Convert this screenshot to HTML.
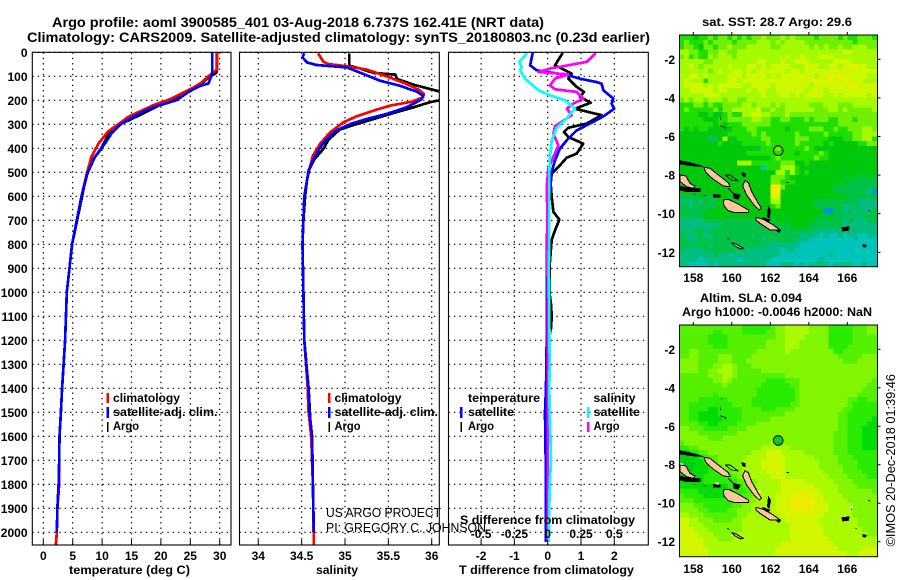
<!DOCTYPE html>
<html>
<head>
<meta charset="utf-8">
<title>Argo profile</title>
<style>
html,body{margin:0;padding:0;background:#fff;}
svg{display:block;font-family:"Liberation Sans",sans-serif;}
text{fill:#000;}
.b{font-weight:bold;font-size:12px;}
.t{font-weight:bold;font-size:14px;}
.n{font-weight:normal;font-size:13px;}
</style>
</head>
<body>
<svg id="chart" xmlns="http://www.w3.org/2000/svg" width="900" height="580" viewBox="0 0 900 580">
<defs>
<clipPath id="clip-t"><rect x="32.5" y="52.5" width="198.5" height="492.5"/></clipPath>
<clipPath id="clip-s"><rect x="239.5" y="52.5" width="200" height="492.5"/></clipPath>
<clipPath id="clip-d"><rect x="448.5" y="52.5" width="200" height="492.5"/></clipPath>
<clipPath id="clip-m1"><rect x="679.5" y="35" width="198" height="232"/></clipPath>
<clipPath id="clip-m2"><rect x="679.5" y="325" width="198" height="232"/></clipPath>
<g id="islands">
<g fill="#000" stroke="#000" stroke-width="2">
<path d="M30,452 60,458 90,466 100,470 70,468 30,462Z"/>
<path d="M130,553 150,555 150,562 130,562Z"/>
<path d="M190,550 210,555 205,568 192,565Z"/>
<path d="M215,488 225,490 225,500 218,498Z"/>
<path d="M295,590 302,600 298,625 292,620Z"/>
<path d="M278,622 300,630 295,637 280,632Z"/>
<path d="M515,653 538,650 535,662 518,663Z"/>
<path d="M578,703 590,706 585,712 578,710Z"/>
<path d="M320,655 332,660 328,667 320,664Z"/>
<path d="M30,528 60,535 90,535 90,545 50,545 30,540Z"/>
</g>
<g fill="#ffc896" stroke="#000" stroke-width="3" stroke-linejoin="round">
<path d="M102,472 120,475 145,495 175,518 180,530 160,528 130,508 108,488Z"/>
<path d="M30,495 48,498 60,520 75,528 70,535 50,530 30,515Z"/>
<path d="M225,512 235,518 245,545 265,580 275,595 268,600 252,585 230,555 218,528Z"/>
<path d="M160,570 175,568 200,580 235,600 235,608 195,608 175,602 162,588Z"/>
<path d="M258,622 280,628 310,645 330,660 300,660 270,640 258,630Z"/>
<path d="M185,698 200,703 220,715 212,717 195,708Z"/>
</g>
<g fill="none" stroke="#000" stroke-width="2.5">
<path d="M165,495 180,495 205,513 185,510 165,495"/>
<path d="M175,535 190,550 195,565"/>
<path d="M150,347 168,353 166,358"/>
<path d="M155,295v4M152,322v8M350,518h7M555,685h6M595,600l6,4M545,625v4M172,685l6,3M70,553h8M100,556l10,2"/>
</g>
</g>
<g id="nan-specks" fill="#fff">
<rect x="30" y="490" width="9" height="6"/>
<rect x="75" y="540" width="9" height="4"/>
<rect x="136" y="547" width="11" height="6"/>
<rect x="160" y="568" width="8" height="6"/>
<rect x="265" y="572" width="8" height="6"/>
<rect x="540" y="620" width="9" height="6"/>
<rect x="528" y="655" width="8" height="5"/>
<rect x="578" y="703" width="6" height="5"/>
<rect x="183" y="700" width="6" height="6"/>
</g>
</defs>
<rect x="0" y="0" width="900" height="580" fill="#fff"/>
<g id="grid-layer"></g>
<g id="map-layer"></g>
<g id="line-layer"></g>
<g id="frame-layer"></g>
<g id="tick-layer"></g>

<text class="t" x="52" y="27" textLength="492" lengthAdjust="spacingAndGlyphs">Argo profile: aoml 3900585_401 03-Aug-2018 6.737S 162.41E (NRT data)</text>
<text class="t" x="27" y="42" textLength="623" lengthAdjust="spacingAndGlyphs">Climatology: CARS2009. Satellite-adjusted climatology: synTS_20180803.nc (0.23d earlier)</text>

<text class="b" x="69" y="574" textLength="121" lengthAdjust="spacingAndGlyphs">temperature (deg C)</text>
<text class="b" x="316" y="574" textLength="42" lengthAdjust="spacingAndGlyphs">salinity</text>
<text class="b" x="459" y="574" textLength="175" lengthAdjust="spacingAndGlyphs">T difference from climatology</text>
<text class="b" x="460" y="524" textLength="175" lengthAdjust="spacingAndGlyphs">S difference from climatology</text>

<g>
<rect x="106.5" y="393" width="2.5" height="10" fill="#f00"/>
<rect x="106.5" y="407" width="2.5" height="11" fill="#00f"/>
<rect x="107" y="422" width="1.5" height="10" fill="#000"/>
<text class="b" x="113" y="402" textLength="67" lengthAdjust="spacingAndGlyphs">climatology</text>
<text class="b" x="113" y="416" textLength="104.5" lengthAdjust="spacingAndGlyphs">satellite-adj. clim.</text>
<text class="b" x="113" y="430" textLength="26" lengthAdjust="spacingAndGlyphs">Argo</text>
</g>
<g>
<rect x="328" y="393" width="2.5" height="10" fill="#f00"/>
<rect x="328" y="407" width="2.5" height="11" fill="#00f"/>
<rect x="328.5" y="422" width="1.5" height="10" fill="#000"/>
<text class="b" x="334.5" y="402" textLength="67" lengthAdjust="spacingAndGlyphs">climatology</text>
<text class="b" x="334.5" y="416" textLength="103.5" lengthAdjust="spacingAndGlyphs">satellite-adj. clim.</text>
<text class="b" x="334.5" y="430" textLength="26" lengthAdjust="spacingAndGlyphs">Argo</text>
</g>
<g>
<text class="b" x="468" y="402" textLength="72" lengthAdjust="spacingAndGlyphs">temperature</text>
<text class="b" x="593.5" y="402" textLength="42" lengthAdjust="spacingAndGlyphs">salinity</text>
<rect x="460" y="407" width="2.5" height="11" fill="#00f"/>
<rect x="460.5" y="422" width="1.5" height="10" fill="#000"/>
<rect x="587" y="407" width="2.5" height="11" fill="#0ff"/>
<rect x="587" y="422" width="2.5" height="10" fill="#f0f"/>
<text class="b" x="468" y="416" textLength="46" lengthAdjust="spacingAndGlyphs">satellite</text>
<text class="b" x="468" y="430" textLength="26" lengthAdjust="spacingAndGlyphs">Argo</text>
<text class="b" x="593.5" y="416" textLength="46.5" lengthAdjust="spacingAndGlyphs">satellite</text>
<text class="b" x="593.5" y="430" textLength="26" lengthAdjust="spacingAndGlyphs">Argo</text>
</g>

<text class="n" x="326" y="517" textLength="115" lengthAdjust="spacingAndGlyphs">US ARGO PROJECT</text>
<text class="n" x="326" y="532" textLength="160" lengthAdjust="spacingAndGlyphs">PI: GREGORY C. JOHNSON</text>

<text class="b" x="702" y="26" textLength="150" lengthAdjust="spacingAndGlyphs">sat. SST: 28.7 Argo: 29.6</text>
<text class="b" x="700" y="302" textLength="102" lengthAdjust="spacingAndGlyphs">Altim. SLA: 0.094</text>
<text class="b" x="682" y="316" textLength="190" lengthAdjust="spacingAndGlyphs">Argo h1000: -0.0046 h2000: NaN</text>
<text class="n" transform="translate(895,546.5) rotate(-90)" x="0" y="0" textLength="172.5" lengthAdjust="spacingAndGlyphs">©IMOS 20-Dec-2018 01:39:46</text>
</svg>

<script>
// ---------- profile data (depth in m, values in natural units) ----------
const depthTicks = [0,100,200,300,400,500,600,700,800,900,1000,1100,1200,1300,1400,1500,1600,1700,1800,1900,2000];
const tempTicks = [0,5,10,15,20,25,30];
const salTicks = [34,34.5,35,35.5,36];
const salTickLabels = ['34','34.5','35','35.5','36'];
const tDiffTicks = [-2,-1,0,1,2];
const sDiffTicks = [-0.5,-0.25,0,0.25,0.5];
const sDiffTickLabels = ['-0.5','-0.25','0','0.25','0.5'];

const tempArgoDepth = [0,80,88,104,136,170,199,226,261,310,351,407,462,505,600,800,1000,1200,1400,1500,1600,1700,1800,1900,2000,2054];
const tempArgo = [29.5,29.5,29.3,28.1,26.7,23.9,21.9,19.3,16.5,12.2,10.9,9.7,8,7.4,6.6,4.9,4,3.7,3.2,3,2.75,2.7,2.65,2.4,2.3,2.15];
const tempClimDepth = [0,70,100,130,150,170,195,220,240,268,296,330,380,435,505,600,800,1000,1200,1400,1500,1600,1700,1800,1900,2000,2054];
const tempClim = [29.6,29.6,28.1,26.7,25.3,23.6,21.6,18.75,17,14.5,13,11,9.4,8.2,7.4,6.5,4.9,4,3.7,3.2,3,2.75,2.7,2.7,2.4,2.3,2.15];
const tempSatDepth = [0,90,130,140,165,199,220,240,268,303,338,380,435,505,600,800,1000,1200,1400,1500,1600,1700,1800,1900,2000];
const tempSat = [28.7,28.7,28.1,26.7,24.7,22.7,19.9,17.6,15.3,13,11.6,10.5,8.8,7.5,6.5,4.9,4,3.7,3.2,3,2.75,2.7,2.6,2.4,2.3];

const salArgoDepth = [4,56,63,86,93,111,135,153,164,180,199,208,229,253,278,303,322,364,403,444,493,535,600,700,800,1000,1200,1400,1600,1800,2054];
const salArgo = [35.05,35.05,35.13,35.33,35.58,35.6,35.79,35.98,36.1,36.3,36.1,35.98,35.79,35.56,35.33,35.1,34.94,34.81,34.75,34.65,34.58,34.56,34.54,34.52,34.51,34.52,34.53,34.58,34.61,34.63,34.64];
const salClimDepth = [4,39,49,58,72,100,132,156,174,188,206,222,243,267,292,333,382,431,472,535,600,700,800,1000,1200,1400,1500,1600,1800,2054];
const salClim = [34.69,34.75,34.81,35.02,35.25,35.48,35.71,35.85,35.91,35.9,35.77,35.52,35.33,35.13,34.98,34.83,34.71,34.63,34.6,34.56,34.53,34.52,34.51,34.52,34.53,34.57,34.58,34.61,34.63,34.64];
const salSatDepth = [4,21,42,53,63,90,118,139,164,181,197,229,257,278,299,326,368,410,458,493,535,600,700,800,1000,1200,1400,1500,1600,1800,2000];
const salSat = [34.53,34.51,34.56,34.67,35.02,35.21,35.4,35.63,35.83,35.9,35.88,35.71,35.48,35.25,35.06,34.9,34.77,34.69,34.62,34.58,34.56,34.53,34.52,34.51,34.52,34.53,34.58,34.59,34.62,34.63,34.64];

const dTArgoDepth = [3,54,89,110,144,165,186,210,235,262,297,314,332,353,381,422,439,478,506,547,603,665,697,742,781,900,1000,1050,1100,1150,1200,1400,1600,1800,2040];
const dTArgo = [0.45,0.22,0.72,0.62,0.87,1.09,0.97,1.29,0.82,1.62,1.17,0.62,0.49,0.62,1.07,0.87,0.57,0.32,0.12,0.09,0.12,0.17,0.35,0.22,0.12,0.05,0.05,0.1,0.12,0.1,0.02,0,0,-0.02,0];
const dTSatDepth = [3,54,75,96,110,124,131,158,193,214,235,267,297,325,367,401,450,499,533,603,672,781,1000,1200,1400,1500,1700,1900,2040];
const dTSat = [-0.45,-0.53,-0.33,0.62,0.97,1.47,1.62,1.67,1.97,1.92,2,1.67,1.27,0.87,0.57,0.37,0.22,0.12,0.09,0.05,0.02,-0.03,-0.03,-0.03,-0.05,-0.08,-0.06,-0.05,-0.05];
const dSArgoDepth = [3,40,68,82,92,110,138,154,165,193,214,235,262,308,339,388,436,485,561,672,781,1000,1400,2040];
const dSArgo = [0.3625,0.2925,0.0175,-0.07,0.155,0.055,0.0175,0.055,0.2175,0.2675,0.1925,0.1425,0.18,0.055,0.0425,0.08,0.0425,0.005,-0.0075,-0.0025,-0.0025,0,0,0];
const dSSatDepth = [3,40,61,75,110,158,179,200,235,276,314,367,436,506,603,781,900,1100,1300,1400,1500,1600,1700,1800,1900,2040];
const dSSat = [-0.1525,-0.2125,-0.195,-0.2075,-0.17,-0.07,0.0175,0.13,0.205,0.1425,0.0675,0.03,0.0175,0.012,0.012,0.012,0.008,0.012,0.015,0.012,0.015,0.02,0.025,0.015,0.012,0.008];

// ---------- map data: colour-level digits, one string per 0.25 deg row ----------
const lonTicks = [158,160,162,164,166];
const latTicks = [-2,-4,-6,-8,-10,-12];
const floatLon = 162.41;
const floatLat = -6.737;
const sstLevels = [
"5554556566 5656566766 6767666656 6665655666 5",
"5655565666 6566667776 7677776666 6666665666 6",
"5665466566 7666777776 6777777676 7667667776 6",
"7766556677 6677777777 7777777777 7777887777 7",
"6756557677 7677777777 7787787778 8877777777 7",
"7777766777 7777778877 7877888777 7788887777 7",
"7787677777 8777887878 8887778887 7887889887 7",
"7777776787 7887878888 8878878888 8888888888 8",
"7788787777 8887888878 7888888878 8989888887 7",
"7877757777 8878888888 8888888898 8988988877 7",
"7888878788 8887788887 8888888788 8888889888 8",
"7788888788 7777878877 8888887888 7888888888 8",
"7777788877 7777777877 7887878888 7787888887 8",
"6767767776 7766777777 7777777777 7777777777 7",
"5556656556 6667767776 7677777666 7776667777 7",
"5655555656 6777778667 6677777766 6776766666 7",
"5555445445 6557788776 6676666666 6666666666 6",
"5555544455 6666677665 5665556566 6556665666 6",
"5555555454 5556666665 5555555555 5556666666 6",
"5454554444 4555665555 5545555666 5565566677 6",
"4444444444 5555565655 5555655555 6555556677 7",
"4444442347 4455555665 5555666555 5444556677 5",
"4444444454 4445555565 5555655555 4544444556 6",
"4444444444 4444443555 6555556544 4444444444 4",
"4444444444 4444555555 5555455556 5444444444 4",
"4444444444 4444444445 6555555565 5444444444 4",
"4444444444 4477755555 5666445444 4444444444 4",
"4444444444 4444444155 5777544444 4444444444 4",
"4444444444 4444444444 7757545444 4444444444 4",
"4444444444 4444444446 6654444444 4444344334 3",
"4444444444 4444444446 6555444444 4444433333 3",
"4344444444 4444444449 9644444444 4433333333 3",
"4444444444 4444444449 9444444444 4433333332 0",
"3333433444 4444444448 8444444444 4444433333 3",
"2323233344 4444444447 7444444433 3333333222 2",
"3323333344 4444444445 6444444433 3333223222 2",
"3333334444 4444444444 4444444444 0033232322 3",
"3333344444 4444444444 4444444443 3433323233 3",
"2222233333 3333333333 4444444433 3333232223 3",
"2222222233 3333333333 3334444333 3333222222 2",
"2323323333 3333333333 3333333322 2222222222 2",
"3223322333 3333333333 3333322221 2112122112 2",
"3322333333 3333333233 3333222111 1111111111 1",
"3333332333 3333333322 2222211111 1111111111 1",
"3222233333 3333222222 2122111111 1111111111 1",
"2222222322 2222222222 2111111111 1211111111 1",
"2222122222 2212222221 1111111112 1111111111 1",
"2211112122 2222222211 1222121222 2122221121 1"
];
const slaLevels = [
"5555555555 5554444445 6677777666 6444445556 6",
"5555555445 5554444455 6677777666 6444445556 6",
"5555554444 5555555555 6677776666 6444445555 5",
"5555554444 5555555566 6677766666 6444445555 5",
"5555555444 5555555566 6677766666 6444455555 5",
"5566555555 5555556666 6676666666 6644555555 5",
"5566555566 6555566666 6666666666 6665555566 6",
"6666555566 6555666666 6666666666 6666555666 6",
"6666555667 7655566666 6666666666 6666666666 6",
"6666556677 7655555666 6666666666 6666666666 6",
"5555556667 7655555555 5566666666 6666666666 6",
"5555555667 6555555544 4455566666 6666666666 5",
"5555555556 5555555444 4445566666 6666666665 5",
"5555555555 5555554444 4444566666 6666666655 5",
"5555555455 5555554444 4444566666 6666666555 5",
"5555444444 5555544444 4444566666 6666655445 5",
"5544444444 4555544444 4445566666 6666654444 4",
"5544443344 4445555444 5555666666 6666554444 4",
"5544333344 4445555555 5566666666 6665544444 4",
"5544333334 4445555556 6666666666 6665544444 3",
"5555443344 4455556666 6666666666 6665544443 3",
"6655544444 5555666666 6666666666 6665544433 3",
"6666555555 5566666666 6666666666 6655544433 3",
"6666665556 6666666666 6666666666 6655544433 3",
"5666666666 6666666667 7666666666 6655544433 3",
"4455666666 6666666777 7776666666 6655544433 3",
"3344556666 6666677788 8777776666 6655544444 4",
"2233445566 6666777788 8877777766 6665554444 4",
"2223344566 6667777888 8877777776 6665555444 4",
"2223334456 6667777888 8877777776 6666555444 4",
"2223334455 5667777788 8877777777 6666555544 4",
"2233344444 4566777778 8877777777 7666655554 4",
"3333344444 4455667777 7888887777 7766665555 5",
"3333333333 4445567777 7888888877 7776666555 5",
"4444333333 3444567777 7888888887 7776666666 5",
"5444433333 3445567777 8888999888 7777666666 6",
"5554444444 4455667777 8889999988 7777766666 6",
"6665544444 4556677777 8889999988 8777776666 6",
"6666554444 5566677777 8889999988 8777776666 6",
"7766655555 5566777777 7888888888 7777776666 6",
"8877666555 5667777777 7788888887 7777777666 6",
"8877766666 6667777777 7778888887 7777777666 6",
"8887776666 6667777777 7778888888 7777777766 6",
"8888777666 6677777777 7778888888 7777777776 6",
"8888877766 6777777777 7778888888 8777777777 7",
"8888877777 7777777777 7888888888 8877777777 7",
"8888887777 7777777777 8888888888 8887777788 8",
"8888887777 7777777777 8888888888 8888877888 8"
];
const sstColormap = ['rgb(0,140,240)','rgb(0,195,185)','rgb(0,190,130)','rgb(0,195,70)','rgb(0,200,10)','rgb(30,222,0)','rgb(110,240,0)','rgb(165,250,0)','rgb(205,248,0)','rgb(240,235,0)'];
const slaColormap = ['rgb(0,140,240)','rgb(0,200,195)','rgb(0,205,20)','rgb(0,220,5)','rgb(40,235,0)','rgb(85,240,0)','rgb(130,245,0)','rgb(170,250,0)','rgb(210,245,0)','rgb(238,235,0)'];

// ---------- axis functions ----------
const yDepth = d => 52.3 + d * 0.24;
const xTemp = v => 43.3 + v * 5.88;
const xSal = v => 345 + (v - 35) * 86.7;
const xDT = v => 547.7 + v * 33.3;
const xDS = v => 547.7 + v * 133.2;
const xLon = lon => 693.3 + (lon - 158) * 19.25;
const yLat1 = lat => 59.3 + (-2 - lat) * 19.3;
const yLat2 = lat => 349.3 + (-2 - lat) * 19.24;

const NS = 'http://www.w3.org/2000/svg';
function mk(tag, parent, attrs) {
  const el = document.createElementNS(NS, tag);
  for (const k in attrs) el.setAttribute(k, attrs[k]);
  parent.appendChild(el);
  return el;
}
const gridLayer = document.getElementById('grid-layer');
const mapLayer = document.getElementById('map-layer');
const lineLayer = document.getElementById('line-layer');
const frameLayer = document.getElementById('frame-layer');
const tickLayer = document.getElementById('tick-layer');

const panels = [
  {l:32.3, r:231, clip:'clip-t', ticks:tempTicks, xf:xTemp, labels:tempTicks.map(String)},
  {l:239.5, r:439.3, clip:'clip-s', ticks:salTicks, xf:xSal, labels:salTickLabels},
  {l:448.5, r:648.3, clip:'clip-d', ticks:tDiffTicks, xf:xDT, labels:tDiffTicks.map(String)}
];
const plotTop = 52.3, plotBottom = 545;
const dotted = {fill:'none', stroke:'#000', 'stroke-width':1.2, 'stroke-dasharray':'1.4 4'};

panels.forEach(function (p) {
  depthTicks.forEach(function (d) {
    const ln = mk('line', gridLayer, Object.assign({x1:p.l, x2:p.r, y1:yDepth(d), y2:yDepth(d)}, dotted));
    
    
  });
  p.ticks.forEach(function (v, i) {
    const x = p.xf(v);
    const ln = mk('line', gridLayer, Object.assign({x1:x, x2:x, y1:plotTop, y2:plotBottom}, dotted));
    
    
    const tk = mk('line', tickLayer, {x1:x, x2:x, y1:plotBottom - 5, y2:plotBottom, stroke:'#000', 'stroke-width':1});
    
    
    const lb = mk('text', tickLayer, {x:x, y:560, 'text-anchor':'middle', class:'b'});
    
    
    lb.textContent = p.labels[i];
  });
  const fr = mk('rect', frameLayer, {x:p.l, y:plotTop, width:p.r - p.l, height:plotBottom - plotTop, fill:'none', stroke:'#000', 'stroke-width':1.1});
  
  
});

depthTicks.forEach(function (d) {
  const lb = mk('text', tickLayer, {x:27.5, y:yDepth(d) + 4.5, 'text-anchor':'end', class:'b'});
  
  
  lb.textContent = d;
});

sDiffTicks.forEach(function (v, i) {
  const lb = mk('text', tickLayer, {x:xDS(v), y:538, 'text-anchor':'middle', class:'b'});
  
  
  lb.textContent = sDiffTickLabels[i];
});

function profile(values, depths, xf, color, clip, name, width) {
  const pts = values.map(function (v, i) { return xf(v).toFixed(1) + ',' + yDepth(depths[i]).toFixed(1); }).join(' ');
  const pl = mk('polyline', lineLayer, {points:pts, fill:'none', stroke:color, 'stroke-width':width, 'stroke-linejoin':'round', 'clip-path':'url(#' + clip + ')', 'shape-rendering':'crispEdges'});
  
  
}
profile(tempArgo, tempArgoDepth, xTemp, '#000', 'clip-t', 'temperature-argo-line', 2.7);
profile(tempClim, tempClimDepth, xTemp, '#f00', 'clip-t', 'temperature-climatology-line', 2.7);
profile(tempSat, tempSatDepth, xTemp, '#00f', 'clip-t', 'temperature-satellite-line', 2.7);
profile(salArgo, salArgoDepth, xSal, '#000', 'clip-s', 'salinity-argo-line', 2.7);
profile(salClim, salClimDepth, xSal, '#f00', 'clip-s', 'salinity-climatology-line', 2.7);
profile(salSat, salSatDepth, xSal, '#00f', 'clip-s', 'salinity-satellite-line', 2.7);
profile(dTArgo, dTArgoDepth, xDT, '#000', 'clip-d', 't-difference-argo-line', 2.7);
profile(dTSat, dTSatDepth, xDT, '#00f', 'clip-d', 't-difference-satellite-line', 2.7);
profile(dSArgo, dSArgoDepth, xDS, '#f0f', 'clip-d', 's-difference-argo-line', 2.7);
profile(dSSat, dSSatDepth, xDS, '#0ff', 'clip-d', 's-difference-satellite-line', 2.7);

// ---------- maps ----------
const lonStart = 157.27, latStart = -0.74, cellDeg = 0.25;
function drawMap(levels, colormap, yLat, clip, name, top, bottom, labelY, groupY, showNan) {
  const g = mk('g', mapLayer, {'clip-path':'url(#' + clip + ')', 'shape-rendering':'crispEdges'});
  
  
  const fb = mk('rect', g, {x:679, y:top, width:199, height:bottom - top, fill:colormap[4]});
  
  
  levels.forEach(function (row, r) {
    const digits = row.replace(/ /g, '');
    for (let c = 0; c < digits.length; c++) {
      const x0 = xLon(lonStart + c * cellDeg), x1 = xLon(lonStart + (c + 1) * cellDeg);
      const y0 = yLat(latStart - r * cellDeg), y1 = yLat(latStart - (r + 1) * cellDeg);
      const cell = mk('rect', g, {x:x0.toFixed(2), y:y0.toFixed(2), width:(x1 - x0 + 0.4).toFixed(2), height:(y1 - y0 + 0.4).toFixed(2), fill:colormap[+digits[c]]});
      
      
    }
  });
  if (showNan) {
    const nan = mk('use', g, {href:'#nan-specks', transform:'translate(670,' + groupY + ') scale(0.33333)'});
    
    
  }
  const isl = mk('use', g, {href:'#islands', transform:'translate(670,' + groupY + ') scale(0.33333)'});
  
  

  const fr = mk('rect', mapLayer, {x:679.5, y:top, width:198, height:bottom - top, fill:'none', stroke:'#000', 'stroke-width':1});
  
  

  lonTicks.forEach(function (lon) {
    const x = xLon(lon);
    const tk = mk('line', mapLayer, {x1:x, x2:x, y1:top - 3, y2:top, stroke:'#000', 'stroke-width':1});
    
    
    const lb = mk('text', mapLayer, {x:x, y:labelY, 'text-anchor':'middle', class:'b'});
    
    
    lb.textContent = lon;
  });
  latTicks.forEach(function (lat) {
    const y = yLat(lat);
    const tk = mk('line', mapLayer, {x1:877.5, x2:880.5, y1:y, y2:y, stroke:'#000', 'stroke-width':1});
    
    
    const lb = mk('text', mapLayer, {x:675, y:y + 4.5, 'text-anchor':'end', class:'b'});
    
    
    lb.textContent = lat;
  });
}
drawMap(sstLevels, sstColormap, yLat1, 'clip-m1', 'sst-heatmap', 35, 266.7, 282, 10, false);
drawMap(slaLevels, slaColormap, yLat2, 'clip-m2', 'sla-heatmap', 325, 556.7, 573, 300, true);

const marker1 = mk('circle', mapLayer, {cx:xLon(floatLon), cy:yLat1(floatLat), r:4.8, fill:'none', stroke:'#000', 'stroke-width':1});


const marker2 = mk('circle', mapLayer, {cx:xLon(floatLon), cy:yLat2(floatLat), r:4.8, fill:'rgb(0,205,40)', stroke:'#000', 'stroke-width':1});


</script>
</body>
</html>
